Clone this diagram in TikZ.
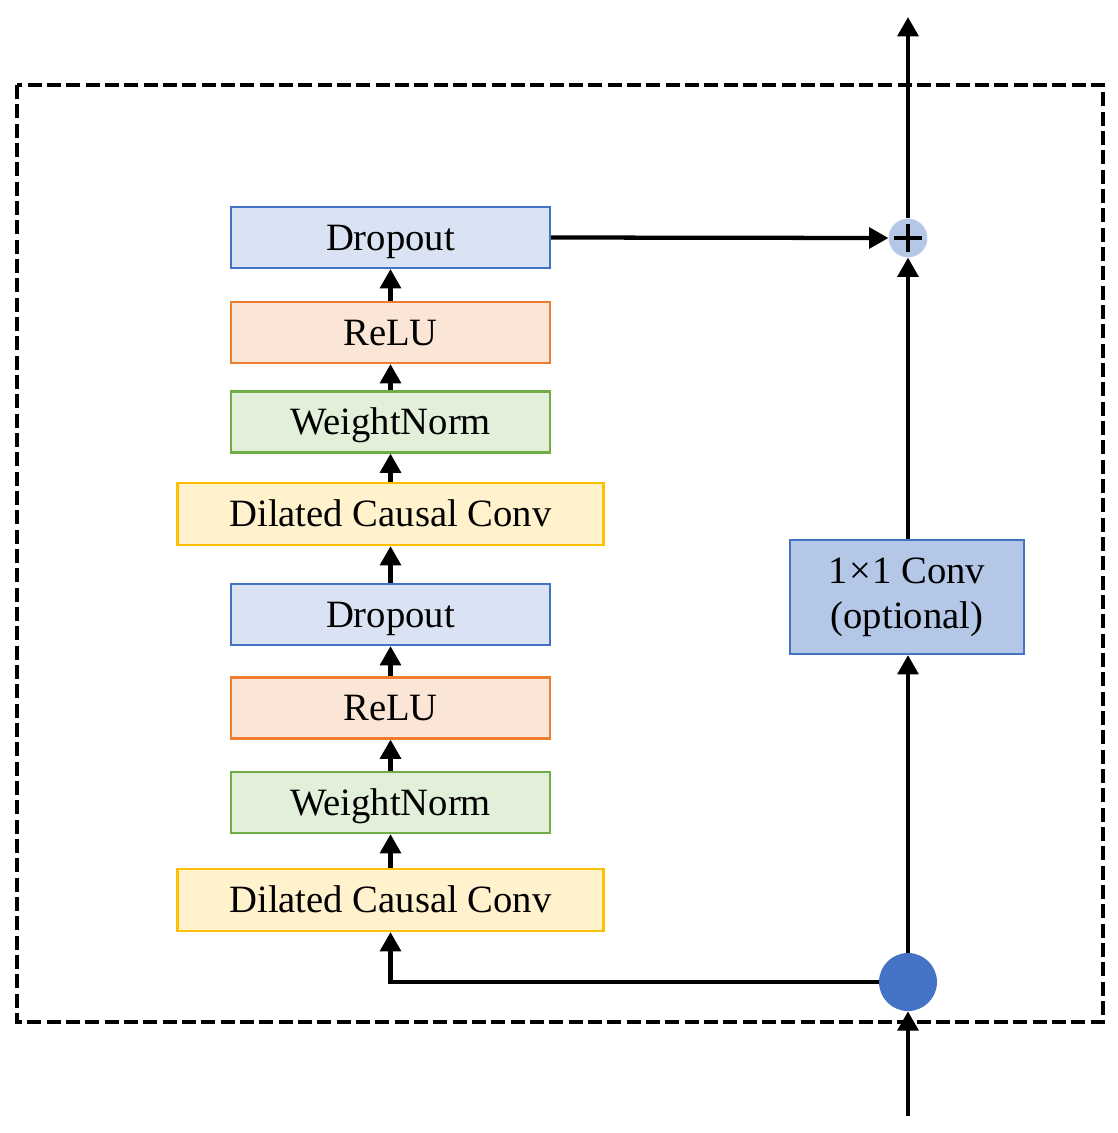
\documentclass[tikz,border=0pt]{standalone}
\usepackage{fontspec}
\setmainfont{Liberation Serif}
\usetikzlibrary{arrows.meta}
\definecolor{bluefill}{HTML}{DAE3F3}
\definecolor{blueline}{HTML}{4472C4}
\definecolor{orangefill}{HTML}{FBE5D6}
\definecolor{orangeline}{HTML}{ED7D31}
\definecolor{greenfill}{HTML}{E2F0D9}
\definecolor{greenline}{HTML}{70AD47}
\definecolor{yellowfill}{HTML}{FFF2CC}
\definecolor{yellowline}{HTML}{FFC000}
\definecolor{convfill}{HTML}{B4C7E7}
\tikzset{
  box/.style={draw, line width=1.6pt, rectangle, inner sep=0pt,
    font=\fontsize{29}{29}\selectfont, minimum height=45.75pt},
  onebox/.style={box, text height=19.2pt, text depth=0pt},
  narrowbox/.style={onebox, minimum width=239.25pt},
  widebox/.style={onebox, minimum width=319.5pt, minimum height=46.5pt},
  dropbox/.style={narrowbox, fill=bluefill, draw=blueline},
  relubox/.style={narrowbox, fill=orangefill, draw=orangeline},
  wnbox/.style={narrowbox, fill=greenfill, draw=greenline},
  dccbox/.style={widebox, fill=yellowfill, draw=yellowline},
  conn/.style={line width=3.2pt, -{Triangle[length=14.5pt,width=15.5pt]}},
}
\begin{document}
\begin{tikzpicture}[x=0.75pt,y=-0.75pt]
\useasboundingbox (0,0) rectangle (1118,1133);
% dashed frame
\draw[line width=2.6pt, dash pattern=on 10.5pt off 4pt] (17,85) rectangle (1103,1022);
% left stack
\node[dropbox] (d1) at (390.5,237.5) {Dropout};
\node[relubox] (r1) at (390.5,332.5) {ReLU};
\node[wnbox] (w1) at (390.5,422) {WeightNorm};
\node[dccbox] (c1) at (390.5,514) {Dilated Causal Conv};
\node[dropbox] (d2) at (390.5,614.5) {Dropout};
\node[relubox] (r2) at (390.5,708) {ReLU};
\node[wnbox] (w2) at (390.5,802.5) {WeightNorm};
\node[dccbox] (c2) at (390.5,900) {Dilated Causal Conv};
% conv box
\node[box, fill=convfill, draw=blueline, minimum width=175.5pt, minimum height=85.5pt, align=center] (cv) at (907,597) {1\kern1pt×\kern1pt1 Conv\\[4.5pt](optional)};
% plus circle and dot
\node[circle, fill=convfill, minimum size=29pt, inner sep=0pt] (plus) at (908,238) {};
\draw[line width=3pt] ([xshift=-10.5pt]plus.center) -- ([xshift=10.5pt]plus.center)
  ([yshift=-10.5pt]plus.center) -- ([yshift=10.5pt]plus.center);
\node[circle, fill=blueline, minimum size=43.5pt, inner sep=0pt] (dot) at (908,982) {};
\coordinate (in) at (908,1116);
\coordinate (out) at (908,17);
\coordinate (corner) at (390.5,982);
% connectors in stack
\draw[conn] (c2.north) -- (w2.south);
\draw[conn] (w2.north) -- (r2.south);
\draw[conn] (r2.north) -- (d2.south);
\draw[conn] (d2.north) -- (c1.south);
\draw[conn] (c1.north) -- (w1.south);
\draw[conn] (w1.north) -- (r1.south);
\draw[conn] (r1.north) -- (d1.south);
% residual
\draw[conn] (in) -- (dot.south);
\draw[conn] (dot.north) -- (dot.north |- cv.south);
\draw[conn] (plus.south |- cv.north) -- (plus.south);
\draw[conn] (plus.north) -- (out);
\draw[conn] (dot.west) -- (corner) -- (c2.south);
\draw[conn] (d1.east) -- (plus.west);
\end{tikzpicture}
\end{document}
